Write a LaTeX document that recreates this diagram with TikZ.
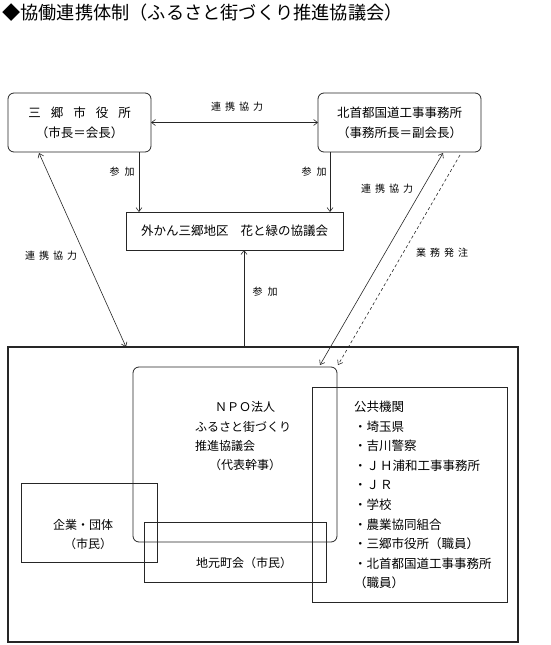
\documentclass[tikz,border=0pt]{standalone}
\usepackage{fontspec}
\setmainfont{Noto Sans CJK JP}
\usetikzlibrary{arrows.meta}
\newcommand\lgap{\hspace{4pt}}
\begin{document}
\begin{tikzpicture}[x=1pt,y=-1pt,
  box/.style={draw=black!85, line width=0.8pt, inner sep=0pt, outer sep=0pt, align=center,
    font=\fontsize{12.5}{20}\selectfont},
  rbox/.style={box, rounded corners=6pt},
  lbl/.style={inner sep=0pt, font=\fontsize{10}{12}\selectfont},
  txt/.style={inner sep=0pt, font=\fontsize{12}{14}\selectfont},
  ltxt/.style={inner sep=0pt, anchor=west, font=\fontsize{12.5}{14}\selectfont},
  conn/.style={draw=black!85, line width=0.6pt}
]
\useasboundingbox (0,0) rectangle (550,645);

% title
\node[anchor=west, inner sep=0pt, font=\fontsize{18.2}{20}\selectfont] (title) at (2,13) {◆協働連携体制（ふるさと街づくり推進協議会）};

% boxes
\node[rbox, minimum width=143pt, minimum height=59pt] (city) at (79.5,122.5)
  {三\hspace{10pt}郷\hspace{10pt}市\hspace{10pt}役\hspace{10pt}所\\（市長＝会長）};
\node[rbox, minimum width=163pt, minimum height=59pt] (kita) at (399.5,122.5)
  {北首都国道工事事務所\\（事務所長＝副会長）};
\node[box, minimum width=217pt, minimum height=38pt] (hana) at (234.5,231)
  {外かん三郷地区\hspace{12pt}花と緑の協議会};
\node[box, line width=1.2pt, minimum width=510pt, minimum height=295pt] (outer) at (263,494.5) {};
\node[box, minimum width=136pt, minimum height=79pt] (kigyo) at (89,522.5) {};
\node[box, minimum width=182pt, minimum height=60pt] (chokai) at (235,552) {};
\node[box, minimum width=195pt, minimum height=215pt] (kokyo) at (409.5,494.5) {};
\node[rbox, minimum width=204pt, minimum height=175pt] (npo) at (235,454.5) {};

% texts in boxes
\node[txt] (npo1) at (245,407) {ＮＰＯ法人};
\node[txt, anchor=west] (npo2) at (195,427) {ふるさと街づくり};
\node[txt, anchor=west] (npo3) at (195,446) {推進協議会};
\node[txt] (npo4) at (245,465) {（代表幹事）};

\node[txt] (kig1) at (83,525) {企業・団体};
\node[txt] (kig2) at (88,544) {（市民）};

\node[txt] (cho1) at (244,563) {地元町会（市民）};

\node[ltxt] (k0) at (354,407) {公共機関};
\node[ltxt] (k1) at (354,426.6) {・埼玉県};
\node[ltxt] (k2) at (354,446.1) {・吉川警察};
\node[ltxt] (k3) at (354,465.7) {・Ｊ\hspace{1pt}Ｈ浦和工事事務所};
\node[ltxt] (k4) at (354,485.2) {・Ｊ\hspace{1pt}Ｒ};
\node[ltxt] (k5) at (354,504.8) {・学校};
\node[ltxt] (k6) at (354,524.4) {・農業協同組合};
\node[ltxt] (k7) at (354,543.9) {・三郷市役所（職員）};
\node[ltxt] (k8) at (354,563.5) {・北首都国道工事事務所};
\node[ltxt] (k9) at (354,583) {（職員）};

% helper x positions
\coordinate (xa) at (139,0);
\coordinate (xb) at (330,0);
\coordinate (xc) at (244,0);
\coordinate (xd) at (39,0);
\coordinate (xe) at (126,0);
\coordinate (xf) at (443,0);
\coordinate (xg) at (460,0);
\coordinate (npoA) at (320,365);
\coordinate (npoB) at (338,365);

% connectors
\draw[conn, {Straight Barb[length=4pt,width=6pt]}-{Straight Barb[length=4pt,width=6pt]}] (city.east) -- (kita.west);
\draw[conn, -{Straight Barb[length=4pt,width=6pt]}] (xa |- city.south) -- (xa |- hana.north);
\draw[conn, -{Straight Barb[length=4pt,width=6pt]}] (xb |- kita.south) -- (xb |- hana.north);
\draw[conn, -{Straight Barb[length=4pt,width=6pt]}] (xc |- outer.north) -- (xc |- hana.south);
\draw[conn, {Straight Barb[length=4pt,width=6pt]}-{Straight Barb[length=4pt,width=6pt]}] ([yshift=-1pt]xd |- city.south) -- (xe |- outer.north);
\draw[conn, {Straight Barb[length=4pt,width=6pt]}-{Straight Barb[length=4pt,width=6pt]}] ([yshift=-1pt]xf |- kita.south) -- (npoA);
\draw[conn, dashed, dash pattern=on 3pt off 2.5pt, -{Straight Barb[length=4pt,width=6pt]}] ([yshift=-3pt]xg |- kita.south) -- (npoB);

% labels
\node[lbl] (l1) at (237,107) {連\lgap 携\lgap 協\lgap 力};
\node[lbl] (l2) at (122,172) {参\hspace{5pt}加};
\node[lbl] (l3) at (314,172) {参\hspace{5pt}加};
\node[lbl] (l4) at (387,189) {連\lgap 携\lgap 協\lgap 力};
\node[lbl] (l5) at (51,256) {連\lgap 携\lgap 協\lgap 力};
\node[lbl] (l6) at (442,253) {業\lgap 務\lgap 発\lgap 注};
\node[lbl] (l7) at (265,292) {参\hspace{5pt}加};
\end{tikzpicture}
\end{document}
